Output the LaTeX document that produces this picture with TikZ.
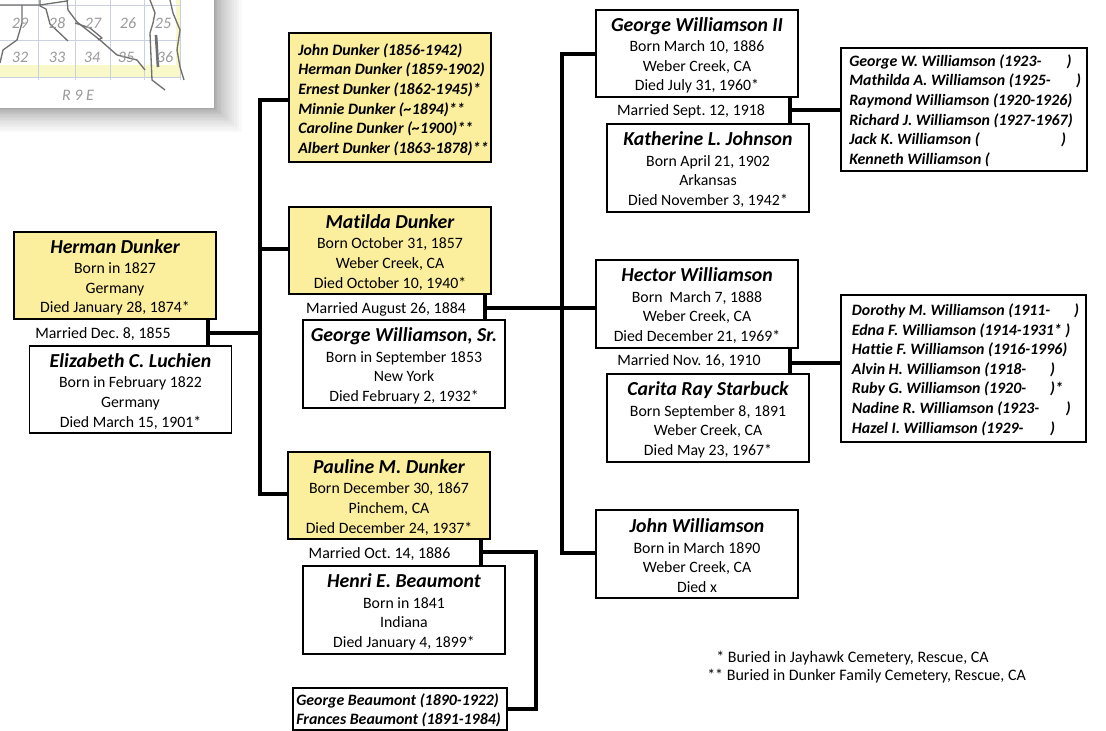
\documentclass[tikz,border=0pt]{standalone}
\usepackage{fontspec}
\setmainfont{Carlito}[Ligatures=NoCommon]
\frenchspacing
\definecolor{famyellow}{HTML}{FBEE9D}
\definecolor{mapgrid}{HTML}{C9D0DE}
\definecolor{mapband}{HTML}{F8F8C8}
\definecolor{maproad}{HTML}{707070}
\definecolor{mapnum}{HTML}{9A9A9A}
\newcommand{\nm}[1]{{\fontsize{14.85}{14.6}\selectfont\bfseries\itshape\rule{0pt}{13pt}#1}}
\tikzset{
  x=0.75pt,y=-0.75pt,
  person/.style={draw=black,line width=1.4pt,fill=white,inner sep=0pt,outer sep=0pt,
    minimum width=151.5pt,minimum height=65.6pt,align=center,
    font=\fontsize{11.85}{14.7}\selectfont},
  blood/.style={person,fill=famyellow},
  kidtext/.style={anchor=west,inner sep=0pt,align=left,font=\fontsize{11.9}{14.7}\selectfont\bfseries\itshape},
  wed/.style={inner sep=0pt,font=\fontsize{11.9}{14}\selectfont},
  note/.style={inner sep=0pt,anchor=west,font=\fontsize{12}{13}\selectfont},
  link/.style={draw=black,line width=3pt},
  drop/.style={draw=black,line width=2.6pt},
  mapnumber/.style={inner sep=0pt,text=mapnum,font=\fontsize{12}{12}\selectfont\itshape},
  road/.style={draw=maproad,line width=1pt,line join=round},
  gridline/.style={draw=mapgrid,line width=0.7pt}
}
\begin{document}
\begin{tikzpicture}
\useasboundingbox (0,0) rectangle (1106,731);
% map fragment with soft shadow
\foreach \i in {1,...,20}{\fill[black,opacity=0.022] (-5,-5) rectangle (214+\i*\i*0.07,108+\i*\i*0.06);}
\fill[white] (0,0) rectangle (214,108.5);
\fill[mapband] (0,65) rectangle (180,77);
\fill[mapband] (176,0) rectangle (180,77);
\foreach \gx in {38,75,110,144,180}{\draw[gridline] (\gx,0) -- (\gx,80);}
\foreach \gy in {5,40,77}{\draw[gridline] (0,\gy) -- (180,\gy);}
\draw[road] (0,63) -- (3,50) -- (17,40) -- (22,23) -- (22,5);
\draw[road] (0,5) -- (40,5) -- (67,1) -- (68,0);
\draw[road] (40,0) -- (40,6) -- (46,9) -- (50,24) -- (68,41);
\draw[road] (67,0) -- (68,10) -- (77,22) -- (100,40) -- (117,55) -- (137,60) -- (145,70);
\draw[road] (75,23) -- (90,28) -- (102,38) -- (98,40);
\draw[road] (150,0) -- (155,13) -- (153,23) -- (150,33) -- (152,80) -- (165,90);
\draw[road] (170,0) -- (173,13) -- (180,30) -- (177,50) -- (180,67) -- (184,80);
\draw[draw=maproad,line width=2pt] (156,35) -- (158,67);
\node[mapnumber] (m29) at (20,23) {29};
\node[mapnumber] (m28) at (57,23) {28};
\node[mapnumber] (m27) at (93,23) {27};
\node[mapnumber] (m26) at (128,23) {26};
\node[mapnumber] (m25) at (163,23) {25};
\node[mapnumber] (m32) at (20,57) {32};
\node[mapnumber] (m33) at (57,57) {33};
\node[mapnumber] (m34) at (92,57) {34};
\node[mapnumber] (m35) at (126,57) {35};
\node[mapnumber] (m36) at (165,57) {36};
\node[mapnumber] (mr) at (78,95) {R 9 E};

% junction coordinates
\coordinate (ja) at (208,333);
\coordinate (tA) at (260,100);
\coordinate (tB) at (260,249);
\coordinate (tC) at (260,494);
\coordinate (jb) at (485,308);
\coordinate (uA) at (562,54);
\coordinate (uB) at (562,308);
\coordinate (uC) at (562,553);
\coordinate (jc) at (790,110);
\coordinate (jd) at (790,363);
\coordinate (je) at (481,552);
\coordinate (ve) at (536,552);
\coordinate (vf) at (536,709);

% people
\node[blood] (herman) at (115,275.5) {\nm{Herman Dunker}\\[0.7pt]Born in 1827\\Germany\\Died January 28, 1874*};
\node[person] (eliz) at (130.5,389.5) {\nm{Elizabeth C. Luchien}\\[0.7pt]Born in February 1822\\Germany\\Died March 15, 1901*};
\node[blood] (matilda) at (390,250.5) {\nm{Matilda Dunker}\\[0.7pt]Born October 31, 1857\\Weber Creek, CA\\Died October 10, 1940*};
\node[person] (gsr) at (404,364) {\nm{George Williamson, Sr.}\\[0.7pt]Born in September 1853\\New York\\Died February 2, 1932*};
\node[blood] (pauline) at (389,495.5) {\nm{Pauline M. Dunker}\\[0.7pt]Born December 30, 1867\\Pinchem, CA\\Died December 24, 1937*};
\node[person] (henri) at (404,610) {\nm{Henri E. Beaumont}\\[0.7pt]Born in 1841\\Indiana\\Died January 4, 1899*};
\node[person] (g2) at (697,53.5) {\nm{George Williamson II}\\[0.7pt]Born March 10, 1886\\Weber Creek, CA\\Died July 31, 1960*};
\node[person] (kath) at (708,168) {\nm{Katherine L. Johnson}\\[0.7pt]Born April 21, 1902\\Arkansas\\Died November 3, 1942*};
\node[person] (hector) at (697,304) {\nm{Hector Williamson}\\[0.7pt]Born\ \ March 7, 1888\\Weber Creek, CA\\Died December 21, 1969*};
\node[person] (carita) at (708,418) {\nm{Carita Ray Starbuck}\\[0.7pt]Born September 8, 1891\\Weber Creek, CA\\Died May 23, 1967*};
\node[person] (john) at (697,554) {\nm{John Williamson}\\[0.7pt]Born in March 1890\\Weber Creek, CA\\Died x};

% marriage labels
\node[wed] (w1) at (103,334) {Married Dec. 8, 1855};
\node[wed] (w2) at (386,309) {Married August 26, 1884};
\node[wed] (w3) at (379.5,554) {Married Oct. 14, 1886};
\node[wed] (w4) at (691,111) {Married Sept. 12, 1918};
\node[wed] (w5) at (689,361) {Married Nov. 16, 1910};

% children lists
\node[blood,minimum width=151.5pt,minimum height=96.7pt] (dlist) at (390,97.5) {};
\node[kidtext] (dtext) at ([xshift=6.8pt,yshift=-1.6pt]dlist.west) {John Dunker (1856-1942)\\Herman Dunker (1859-1902)\\Ernest Dunker (1862-1945)*\\Minnie Dunker (\textasciitilde1894)**\\Caroline Dunker (\textasciitilde1900)**\\Albert Dunker (1863-1878)**};
\node[person,minimum width=160.5pt,minimum height=31.5pt] (blist) at (400,709) {};
\node[kidtext] (btext) at ([xshift=2.3pt,yshift=-1pt]blist.west) {George Beaumont (1890-1922)\\Frances Beaumont (1891-1984)};
\node[person,minimum width=184.5pt,minimum height=92.2pt] (glist) at (964,109.5) {};
\node[kidtext] (gtext) at ([xshift=6pt,yshift=-0.8pt]glist.west) {George W. Williamson (1923-\hspace{19pt})\\Mathilda A. Williamson (1925-\hspace{19pt})\\Raymond Williamson (1920-1926)\\Richard J. Williamson (1927-1967)\\Jack K. Williamson (\hspace{61pt})\\Kenneth Williamson (};
\node[person,minimum width=183.8pt,minimum height=110.2pt] (hlist) at (963.5,368.5) {};
\node[kidtext] (htext) at ([xshift=8pt,yshift=-0.8pt]hlist.west) {Dorothy M. Williamson (1911-\hspace{18pt})\\Edna F. Williamson (1914-1931* )\\Hattie F. Williamson (1916-1996)\\Alvin H. Williamson (1918-\hspace{18pt})\\Ruby G. Williamson (1920-\hspace{18pt})*\\Nadine R. Williamson (1923-\hspace{20pt})\\Hazel I. Williamson (1929-\hspace{20pt})};

% connectors
\draw[drop] (ja |- herman.south) -- (ja |- eliz.north);
\draw[link] (ja) -- (ja -| tA);
\draw[link,line cap=rect] (tA) -- (tC);
\draw[link] (tA) -- (tA -| dlist.west);
\draw[link] (tB) -- (tB -| matilda.west);
\draw[link] (tC) -- (tC -| pauline.west);

\draw[drop] (jb |- matilda.south) -- (jb |- gsr.north);
\draw[link] (jb) -- (jb -| hector.west);
\draw[link,line cap=rect] (uA) -- (uC);
\draw[link] (uA) -- (uA -| g2.west);
\draw[link] (uC) -- (uC -| john.west);

\draw[drop] (jc |- g2.south) -- (jc |- kath.north);
\draw[link] (jc) -- (jc -| glist.west);
\draw[drop] (jd |- hector.south) -- (jd |- carita.north);
\draw[link] (jd) -- (jd -| hlist.west);

\draw[drop] (je |- pauline.south) -- (je |- henri.north);
\draw[link,line join=miter] (je) -- (ve) -- (vf) -- (vf -| blist.east);

% footnotes
\node[note] (n1) at (716,658) {* Buried in Jayhawk Cemetery, Rescue, CA};
\node[note] (n2) at (707,676) {** Buried in Dunker Family Cemetery, Rescue, CA};
\end{tikzpicture}
\end{document}
